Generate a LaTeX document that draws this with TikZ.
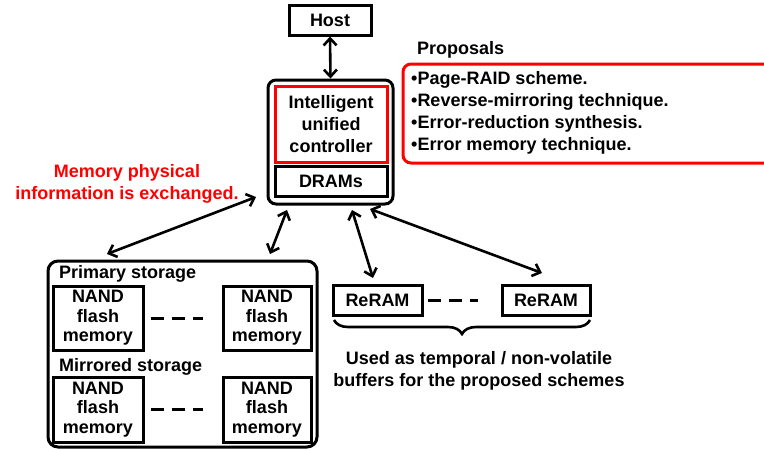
\documentclass[tikz,border=0pt]{standalone}
\usepackage{fontspec}
\setmainfont{Liberation Sans}
\usetikzlibrary{arrows.meta,decorations.pathreplacing}
\begin{document}
\begin{tikzpicture}[x=1pt,y=-1pt,
  every node/.style={font=\bfseries\fontsize{18}{22}\selectfont},
  box/.style={draw, line width=3pt, align=center, inner sep=0pt},
  redbox/.style={draw=red, line width=3pt, align=center, inner sep=0pt},
  nand/.style={box, font=\bfseries\fontsize{18}{19.5}\selectfont},
  link/.style={line width=2.6pt, {Straight Barb[length=7pt,width=13pt,line width=2.6pt]}-{Straight Barb[length=7pt,width=13pt,line width=2.6pt]}},
  gap/.style={line width=3pt, dash pattern=on 13pt off 8pt},
  lbl/.style={inner sep=0pt, anchor=west}
]
\useasboundingbox (0,0) rectangle (764,448);

% Host
\node[box, minimum width=82pt, minimum height=30pt] (host) at (330,20) {Host};

% Controller group
\node[box, rounded corners=8pt, minimum width=125pt, minimum height=124pt] (ctrl) at (330.5,142) {};
\node[redbox, minimum width=112pt, minimum height=76pt] (iuc) at (331,124) {Intelligent\\unified\\controller};
\node[box, minimum width=112pt, minimum height=30pt] (dram) at (331,181) {DRAMs};

\draw[link] (host.south) -- (ctrl.north);

% Proposals
\node[lbl] (proptitle) at (417,50) {Proposals};
\draw[red, line width=3pt, rounded corners=8pt] (403,64) rectangle (780,163);
\node[lbl] (p1) at (411,80) {\textbullet Page-RAID scheme.};
\node[lbl] (p2) at (411,102) {\textbullet Reverse-mirroring technique.};
\node[lbl] (p3) at (411,124) {\textbullet Error-reduction synthesis.};
\node[lbl] (p4) at (411,146) {\textbullet Error memory technique.};

% red note
\node[text=red, align=center, inner sep=0pt] (note) at (127,184) {Memory physical\\information is exchanged.};

% Storage
\node[box, rounded corners=10pt, minimum width=269pt, minimum height=186pt] (stor) at (182.5,354) {};
\node[lbl] (prim) at (59,274) {Primary storage};
\node[lbl] (mirr) at (59,367) {Mirrored storage};
\node[nand, minimum width=90pt, minimum height=64pt] (n1) at (98,318) {NAND\\flash\\memory};
\node[nand, minimum width=88pt, minimum height=64pt] (n2) at (267,318) {NAND\\flash\\memory};
\node[nand, minimum width=90pt, minimum height=65pt] (n3) at (98,409.5) {NAND\\flash\\memory};
\node[nand, minimum width=88pt, minimum height=65pt] (n4) at (267,409.5) {NAND\\flash\\memory};
\draw[gap] ([xshift=6pt]n1.east) -- ([xshift=-19pt]n2.west);
\draw[gap] ([xshift=6pt]n3.east) -- ([xshift=-19pt]n4.west);

% ReRAM
\node[box, minimum width=89pt, minimum height=30pt] (r1) at (377.5,300) {ReRAM};
\node[box, minimum width=88pt, minimum height=30pt] (r2) at (546,300) {ReRAM};
\draw[gap] ([xshift=4pt]r1.east) -- ([xshift=-23pt]r2.west);

% brace
\draw[line width=2.6pt, decorate, decoration={brace, mirror, amplitude=14pt, raise=0pt}] (334,320) -- (590,320);
\node[align=center, inner sep=0pt] (buf) at (479,371) {Used as temporal / non-volatile\\buffers for the proposed schemes};

% connectors
\coordinate (a1s) at (107,254);
\coordinate (a1e) at (256,197);
\coordinate (a2s) at (270,254);
\coordinate (a2e) at (287,210);
\coordinate (a3s) at (352,210);
\coordinate (a3e) at (373,278);
\coordinate (a4s) at (370,209);
\coordinate (a4e) at (542,273);
\draw[link] (a1s) -- (a1e);
\draw[link] (a2s) -- (a2e);
\draw[link] (a3s) -- (a3e);
\draw[link] (a4s) -- (a4e);
\end{tikzpicture}
\end{document}
